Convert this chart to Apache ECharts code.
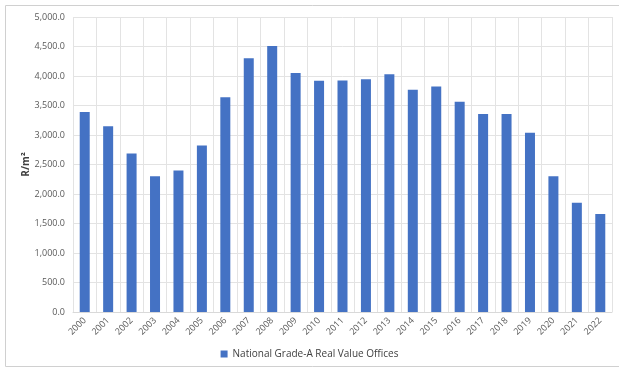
<!DOCTYPE html>
<html>
<head>
<meta charset="utf-8">
<script src="https://cdn.jsdelivr.net/npm/echarts@6/dist/echarts.min.js"></script>
<style>
  html, body { margin: 0; padding: 0; background: #fff; }
  #chart { width: 619px; height: 372px; }
</style>
</head>
<body>
<div id="chart"></div>
<script>
// Annual rentals, national grade-A offices (real values)
const years = ['2000','2001','2002','2003','2004','2005','2006','2007','2008','2009','2010','2011',
               '2012','2013','2014','2015','2016','2017','2018','2019','2020','2021','2022'];
const realValueOffices = [3390, 3150, 2685, 2300, 2400, 2820, 3640, 4300, 4510, 4050, 3920, 3925,
                          3945, 4030, 3765, 3820, 3565, 3355, 3355, 3040, 2300, 1850, 1660];
const seriesName = 'National Grade-A Real Value Offices';
const yAxisName = 'R/m²';

const chart = echarts.init(document.getElementById('chart'));
const font = 'Open Sans, Liberation Sans, sans-serif';

chart.setOption({
  animation: false,
  graphic: [{
    type: 'rect',
    shape: { x: 5.5, y: 5.5, width: 640, height: 361 },
    style: { fill: 'none', stroke: '#d0d0d0', lineWidth: 1 },
    silent: true
  }],
  grid: { left: 73, right: 7, top: 17, bottom: 60 },
  xAxis: {
    type: 'category',
    data: years,
    axisLine: { lineStyle: { color: '#d9d9d9' } },
    axisTick: { show: false },
    splitLine: { show: true, lineStyle: { color: '#e3e3e3' } },
    axisLabel: { rotate: 45, color: '#595959', fontSize: 9, fontFamily: font, margin: 7, interval: 0 }
  },
  yAxis: {
    type: 'value',
    min: 0, max: 5000, interval: 500,
    name: yAxisName,
    nameLocation: 'middle',
    nameGap: 42,
    nameMoveOverlap: false,
    nameTextStyle: { color: '#404040', fontSize: 10, fontWeight: 'bold', fontFamily: font },
    axisLine: { show: false },
    axisTick: { show: false },
    splitLine: { lineStyle: { color: '#e3e3e3' } },
    axisLabel: {
      color: '#595959', fontSize: 9, fontFamily: font, margin: 8,
      formatter: v => v.toLocaleString('en-US', { minimumFractionDigits: 1, maximumFractionDigits: 1 })
    }
  },
  legend: {
    bottom: 8,
    left: 'center',
    itemWidth: 7, itemHeight: 7,
    icon: 'rect',
    textStyle: { color: '#404040', fontSize: 10, fontFamily: font },
    data: [seriesName]
  },
  series: [{
    name: seriesName,
    type: 'bar',
    data: realValueOffices,
    barWidth: 10,
    itemStyle: { color: '#4472C4' }
  }]
});
</script>
</body>
</html>
